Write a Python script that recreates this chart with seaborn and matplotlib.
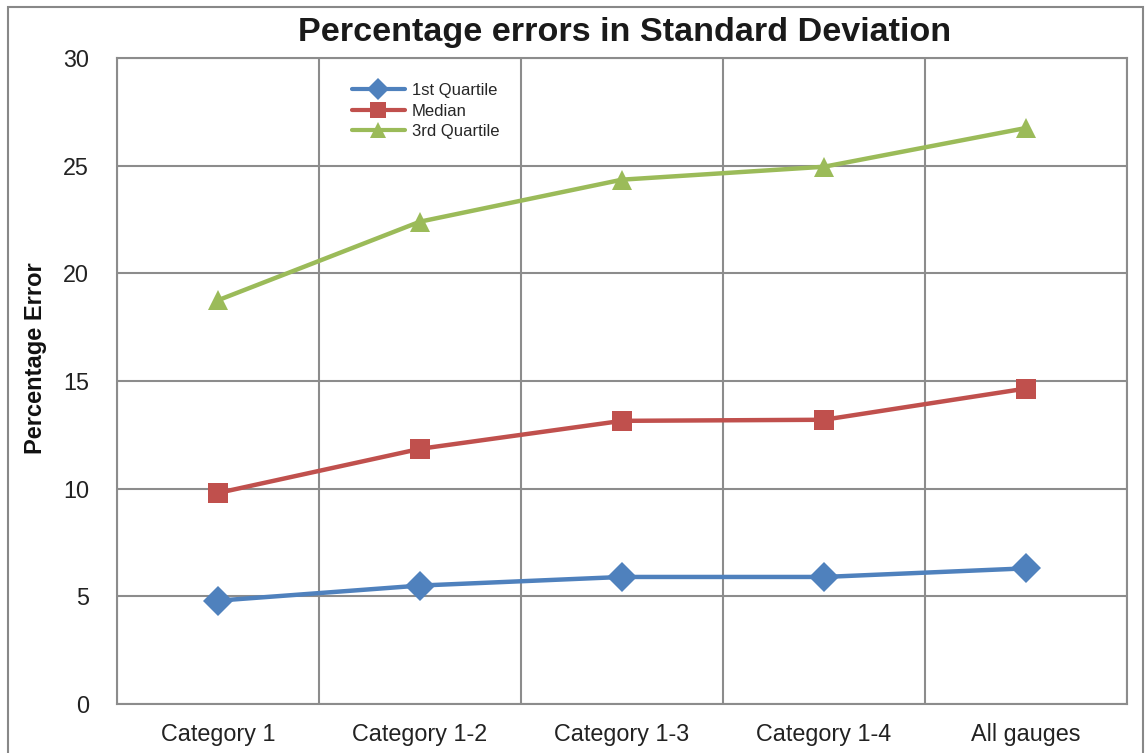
import matplotlib
matplotlib.use("Agg")
import matplotlib.pyplot as plt
import matplotlib.patches as mpatches
import seaborn as sns
import pandas as pd
import numpy as np

categories = ["Category 1", "Category 1-2", "Category 1-3", "Category 1-4", "All gauges"]
q1 = [4.8, 5.5, 5.9, 5.9, 6.3]
median = [9.8, 11.85, 13.15, 13.2, 14.65]
q3 = [18.75, 22.4, 24.35, 24.95, 26.75]
series_names = ["1st Quartile", "Median", "3rd Quartile"]
colors = ["#4F81BD", "#C0504D", "#9BBB59"]
markers = ["D", "s", "^"]

sns.set_theme(style="white")
plt.rcParams["font.family"] = ["Liberation Sans", "DejaVu Sans"]

rows = []
for name, vals in zip(series_names, [q1, median, q3]):
    for i, (c, v) in enumerate(zip(categories, vals)):
        rows.append({"pos": i, "Category": c, "Series": name, "Value": v})
df = pd.DataFrame(rows)

fig = plt.figure(figsize=(11.46, 7.53), dpi=100)
ax = fig.add_axes([117/1146, 1-704/753, (1127-117)/1146, (704-58)/753])

sns.lineplot(data=df, x="pos", y="Value", hue="Series", style="Series",
             palette=dict(zip(series_names, colors)),
             markers=dict(zip(series_names, markers)),
             dashes=False, linewidth=3.2, markersize=15, markeredgewidth=0,
             ax=ax, legend=True)

ax.set_xlim(-0.5, len(categories) - 0.5)
ax.set_ylim(0, 30)
ax.set_yticks(np.arange(0, 31, 5))
ax.set_xticks(range(len(categories)))
ax.set_xticklabels(categories)
ax.set_xticks(np.arange(-0.5, len(categories), 1.0), minor=True)
ax.grid(True, axis="y", which="major", color="#8c8c8c", linewidth=1.5)
ax.grid(True, axis="x", which="minor", color="#8c8c8c", linewidth=1.5)
ax.grid(False, axis="x", which="major")
ax.set_axisbelow(True)
for s in ax.spines.values():
    s.set_color("#8c8c8c")
    s.set_linewidth(1.5)
ax.tick_params(axis="both", which="both", length=0, labelsize=16.8, colors="#222222")
ax.tick_params(axis="x", pad=14)
ax.tick_params(axis="y", pad=20)
ax.set_xlabel("")
ax.set_ylabel("Percentage Error", fontsize=17, fontweight="bold", color="#111111")
ax.yaxis.set_label_coords((47-117)/1010, (704-358)/646)

fig.suptitle("Percentage errors in Standard Deviation", x=(298+952)/2/1146, y=1-33/753,
             va="center", fontsize=24.6, fontweight="bold", color="#1a1a1a")

leg = ax.legend(loc="upper left", bbox_to_anchor=((345-117)/1010, (704-76)/646),
                frameon=False, fontsize=12, handlelength=3.2, labelspacing=0.35,
                handletextpad=0.4, borderaxespad=0)
for h in leg.legend_handles:
    h.set_linewidth(3)
    h.set_markersize(11)

fig.patches.append(mpatches.Rectangle((8/1146, -0.02), (1143-8)/1146, 1.02-7/753,
                                      transform=fig.transFigure, fill=False,
                                      edgecolor="#888888", linewidth=1.5))

fig.savefig("out.png", dpi=100)
